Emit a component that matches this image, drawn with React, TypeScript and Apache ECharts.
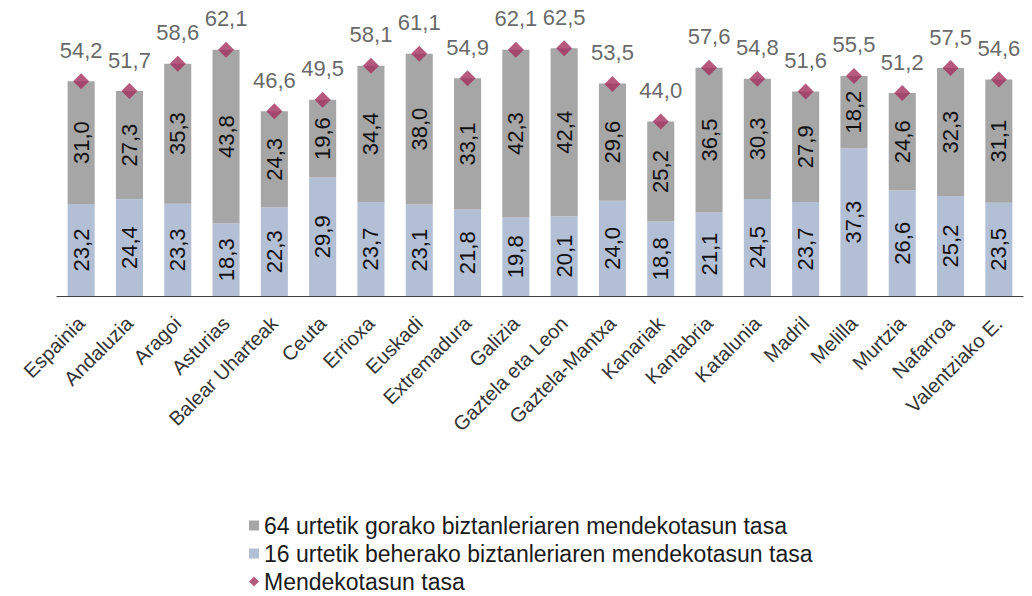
import React, { useEffect, useRef } from "react";
import * as echarts from "echarts";

const categories = [
  "Espainia", "Andaluzia", "Aragoi", "Asturias", "Balear Uharteak", "Ceuta", "Errioxa",
  "Euskadi", "Extremadura", "Galizia", "Gaztela eta Leon", "Gaztela-Mantxa", "Kanariak",
  "Kantabria", "Katalunia", "Madril", "Melilla", "Murtzia", "Nafarroa", "Valentziako E.",
];
const over64 = [31.0, 27.3, 35.3, 43.8, 24.3, 19.6, 34.4, 38.0, 33.1, 42.3, 42.4, 29.6, 25.2, 36.5, 30.3, 27.9, 18.2, 24.6, 32.3, 31.1];
const under16 = [23.2, 24.4, 23.3, 18.3, 22.3, 29.9, 23.7, 23.1, 21.8, 19.8, 20.1, 24.0, 18.8, 21.1, 24.5, 23.7, 37.3, 26.6, 25.2, 23.5];
const total = [54.2, 51.7, 58.6, 62.1, 46.6, 49.5, 58.1, 61.1, 54.9, 62.1, 62.5, 53.5, 44.0, 57.6, 54.8, 51.6, 55.5, 51.2, 57.5, 54.6];

const seriesNames = [
  "64 urtetik gorako biztanleriaren mendekotasun tasa",
  "16 urtetik beherako biztanleriaren mendekotasun tasa",
  "Mendekotasun tasa",
];

const FONT = "'Liberation Sans', Arial, sans-serif";
const fmt = (v: number) => v.toFixed(1).replace(".", ",");

export default function App() {
  const ref = useRef<HTMLDivElement>(null);
  useEffect(() => {
    if (!ref.current) return;
    const chart = echarts.init(ref.current, null, { renderer: "svg" });
    const innerLabel = {
      show: true,
      position: "inside",
      rotate: 90,
      fontFamily: FONT,
      fontSize: 22,
      color: "#111",
      formatter: (p: any) => fmt(p.value),
    };
    chart.setOption({
      animation: false,
      textStyle: { fontFamily: FONT },
      grid: { left: 57, right: 9, top: 18.5, bottom: 300 },
      legend: {
        orient: "vertical",
        left: 244,
        top: 509,
        height: 90,
        itemWidth: 10,
        itemHeight: 10,
        itemGap: 5,
        data: [
          { name: seriesNames[0], icon: "rect" },
          { name: seriesNames[1], icon: "rect" },
          { name: seriesNames[2], icon: "diamond" },
        ],
        textStyle: { fontFamily: FONT, fontSize: 23, color: "#1a1a1a" },
      },
      xAxis: {
        type: "category",
        data: categories,
        axisLine: { lineStyle: { color: "#404040", width: 1 } },
        axisTick: { show: false },
        axisLabel: {
          rotate: 45,
          interval: 0,
          fontFamily: FONT,
          fontSize: 20,
          color: "#333",
          margin: 24,
        },
      },
      yAxis: {
        type: "value",
        min: 0,
        max: 70,
        show: false,
        splitLine: { show: false },
      },
      series: [
        {
          name: seriesNames[1],
          type: "bar",
          stack: "s",
          data: under16,
          barWidth: "56%",
          itemStyle: { color: "#b3bfd4" },
          label: innerLabel,
        },
        {
          name: seriesNames[0],
          type: "bar",
          stack: "s",
          data: over64,
          barWidth: "56%",
          itemStyle: { color: "#a6a6a6" },
          label: innerLabel,
        },
        {
          name: seriesNames[2],
          type: "scatter",
          data: total,
          symbol: "diamond",
          symbolSize: [16, 16],
          itemStyle: { color: "#a3305e" },
          label: {
            show: true,
            position: "top",
            distance: 12,
            fontFamily: FONT,
            fontSize: 22,
            color: "#404040",
            formatter: (p: any) => fmt(p.value),
          },
        },
      ],
    });
    return () => chart.dispose();
  }, []);
  return (
    <div
      ref={ref}
      style={{ position: "fixed", left: 0, top: 0, width: 1032, height: 596, background: "#fff" }}
    />
  );
}
